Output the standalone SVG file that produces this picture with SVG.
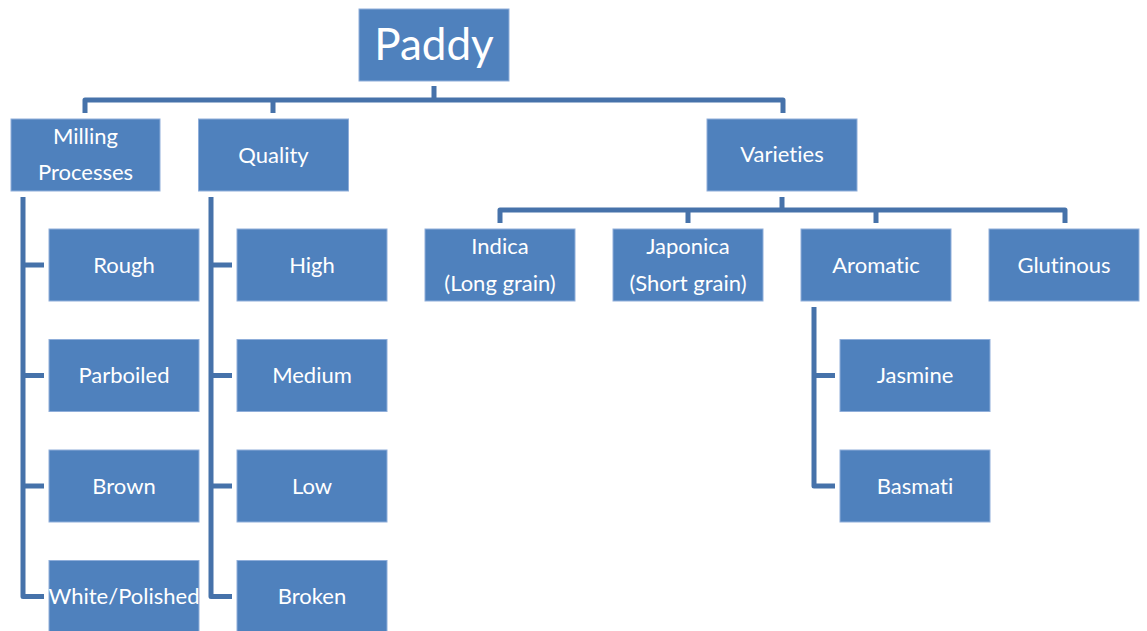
<svg xmlns="http://www.w3.org/2000/svg" width="1147" height="631" viewBox="0 0 1147 631">
<style>
.b{fill:#4F81BD;stroke:#8FAEDA;stroke-width:1}
.t{fill:#fff;font-family:Lato,"Open Sans",sans-serif;font-size:22px;text-anchor:middle;font-variant-ligatures:none}
.c{fill:none;stroke:#4672AA;stroke-width:5;stroke-linejoin:round}
</style>
<rect width="1147" height="631" fill="#fff"/>
<g id="connectors">
<path class="c" d="M434,86V100M85,113V100H783V113M273,100V113"/>
<path class="c" d="M782,197V210M500,223V210H1065V223M688,210V223M876,210V223"/>
<path class="c" d="M23,197V596.5H44M23,265H44M23,375.5H44M23,486H44"/>
<path class="c" d="M211,197V596.5H232M211,265H232M211,375.5H232M211,486H232"/>
<path class="c" d="M814,307V486H835M814,375.5H835"/>
</g>
<g id="paddy"><rect class="b" x="359" y="9" width="150" height="72"/><text class="t" x="434" y="60" style="font-size:44px">Paddy</text></g>
<g id="milling"><rect class="b" x="11" y="119" width="149" height="72"/><text class="t" x="85.5" y="144.3">Milling</text><text class="t" x="85.5" y="180.3">Processes</text></g>
<g id="quality"><rect class="b" x="198.5" y="119" width="150" height="72"/><text class="t" x="273.5" y="162.8">Quality</text></g>
<g id="varieties"><rect class="b" x="707" y="119" width="150" height="72"/><text class="t" x="782" y="162.3">Varieties</text></g>
<g id="rough"><rect class="b" x="49" y="229" width="150" height="72"/><text class="t" x="124" y="272.6">Rough</text></g>
<g id="parboiled"><rect class="b" x="49" y="339.5" width="150" height="72"/><text class="t" x="124" y="383.1">Parboiled</text></g>
<g id="brown"><rect class="b" x="49" y="450" width="150" height="72"/><text class="t" x="124" y="493.6">Brown</text></g>
<g id="white"><rect class="b" x="49" y="560.5" width="150" height="72"/><text class="t" x="124" y="604.1">White/Polished</text></g>
<g id="high"><rect class="b" x="237" y="229" width="150" height="72"/><text class="t" x="312" y="272.6">High</text></g>
<g id="medium"><rect class="b" x="237" y="339.5" width="150" height="72"/><text class="t" x="312" y="383.1">Medium</text></g>
<g id="low"><rect class="b" x="237" y="450" width="150" height="72"/><text class="t" x="312" y="493.6">Low</text></g>
<g id="broken"><rect class="b" x="237" y="560.5" width="150" height="72"/><text class="t" x="312" y="604.1">Broken</text></g>
<g id="indica"><rect class="b" x="425" y="229" width="150" height="72"/><text class="t" x="500" y="254.3">Indica</text><text class="t" x="500" y="290.8">(Long grain)</text></g>
<g id="japonica"><rect class="b" x="613" y="229" width="150" height="72"/><text class="t" x="688" y="254.3">Japonica</text><text class="t" x="688" y="290.8">(Short grain)</text></g>
<g id="aromatic"><rect class="b" x="801" y="229" width="150" height="72"/><text class="t" x="876" y="272.6">Aromatic</text></g>
<g id="glutinous"><rect class="b" x="989" y="229" width="150" height="72"/><text class="t" x="1064" y="272.6">Glutinous</text></g>
<g id="jasmine"><rect class="b" x="840" y="339.5" width="150" height="72"/><text class="t" x="915" y="383.1">Jasmine</text></g>
<g id="basmati"><rect class="b" x="840" y="450" width="150" height="72"/><text class="t" x="915" y="493.6">Basmati</text></g>
</svg>
